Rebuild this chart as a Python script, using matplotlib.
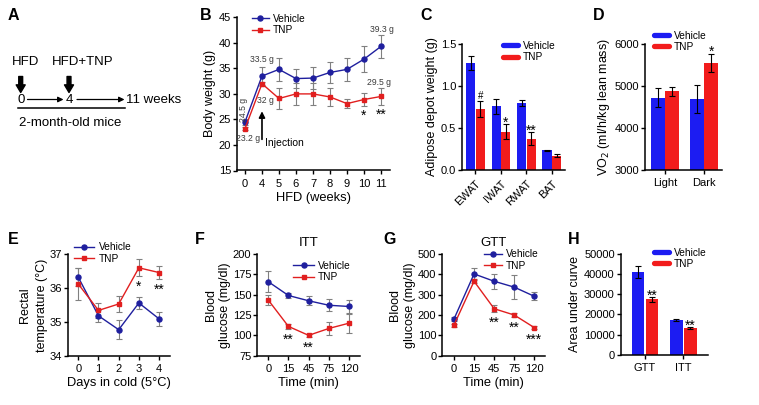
import matplotlib
matplotlib.use('Agg')
import numpy as np
import matplotlib.pyplot as plt

plt.rcParams['font.family'] = ['Liberation Sans', 'DejaVu Sans']

# ---- data ----
weeks_lbl = ['0', '4', '5', '6', '7', '8', '9', '10', '11']
bw_veh = [24.5, 33.5, 34.8, 33.0, 33.1, 34.2, 34.8, 36.8, 39.3]
bw_veh_err = [0.5, 1.8, 2.2, 1.8, 2.2, 2.0, 2.3, 2.5, 2.3]
bw_tnp = [23.2, 32.0, 29.1, 30.0, 30.0, 29.4, 28.1, 28.9, 29.5]
bw_tnp_err = [0.3, 0.4, 2.0, 2.1, 2.1, 1.8, 0.85, 1.2, 1.6]
bw_marks = ['', '', '', '', '', '', '', '*', '**']

fat_cats = ['EWAT', 'IWAT', 'RWAT', 'BAT']
fat_veh = [1.27, 0.76, 0.80, 0.235]
fat_veh_err = [0.085, 0.09, 0.035, 0.008]
fat_tnp = [0.73, 0.455, 0.375, 0.17]
fat_tnp_err = [0.095, 0.09, 0.08, 0.015]
fat_marks = ['#', '*', '**', '']

vo2_cats = ['Light', 'Dark']
vo2_veh = [4720, 4690]
vo2_veh_err = [230, 330]
vo2_tnp = [4870, 5550]
vo2_tnp_err = [110, 220]
vo2_marks = ['', '*']

temp_days = ['0', '1', '2', '3', '4']
temp_veh = [36.32, 35.18, 34.77, 35.56, 35.09]
temp_veh_err = [0.27, 0.18, 0.29, 0.19, 0.21]
temp_tnp = [36.12, 35.34, 35.53, 36.6, 36.46]
temp_tnp_err = [0.47, 0.21, 0.23, 0.25, 0.19]
temp_marks = ['', '', '', '*', '**']

time_lbl = ['0', '15', '45', '75', '120']
itt_veh = [166, 149, 142.5, 137, 135.5]
itt_veh_err = [13, 3.5, 5.5, 7.5, 8.5]
itt_tnp = [143.5, 111, 100, 108.5, 115]
itt_tnp_err = [6.5, 3, 2, 8.5, 11.5]
itt_marks = ['', '**', '**', '', '']

gtt_veh = [180, 402, 366, 337, 292]
gtt_veh_err = [10, 28, 36, 60, 20]
gtt_tnp = [150, 366, 231, 200, 138]
gtt_tnp_err = [8, 10, 18, 9, 7]
gtt_marks = ['', '', '**', '**', '***']

auc_cats = ['GTT', 'ITT']
auc_veh = [41000, 17200]
auc_veh_err = [3000, 450]
auc_tnp = [27400, 13400]
auc_tnp_err = [1000, 450]
auc_marks = ['**', '**']

C_VEH, C_TNP = '#1f1f9e', '#e11f1f'
B_VEH, B_TNP = '#1c1cf2', '#f21c1c'
GREY = '#808080'

W, H = 759, 405
fig = plt.figure(figsize=(W / 100, H / 100), dpi=100)

# overlay for panel A diagram and panel letters (pixel coords)
axA = fig.add_axes([0, 0, 1, 1])
axA.set_xlim(0, W); axA.set_ylim(H, 0); axA.axis('off')


def px_axes(l, t, r, b):
    return fig.add_axes([l / W, 1 - b / H, (r - l) / W, (b - t) / H])


def style(ax):
    for s in ['top', 'right']:
        ax.spines[s].set_visible(False)
    for s in ['left', 'bottom']:
        ax.spines[s].set_linewidth(1.1)
    ax.tick_params(direction='out', length=2.8, width=1.0, labelsize=8, pad=1.5)
    ax.tick_params(axis='x', pad=3.2)


def star(ax, x, y, s, dy_px, fs=10):
    c = 0.36 if s == '#' else 0.58
    fsz = 7 if s == '#' else fs
    ax.annotate(s, xy=(x, y), xytext=(0, dy_px * 0.72 - c * fsz), textcoords='offset points',
                ha='center', va='baseline', fontsize=fsz)


def line_panel(ax, veh, veh_err, tnp, tnp_err, marks):
    x = np.arange(len(veh))
    ek = dict(fmt='none', ecolor=GREY, elinewidth=0.8, capsize=2.2, capthick=0.8, zorder=2)
    ax.errorbar(x, veh, yerr=veh_err, **ek)
    ax.errorbar(x, tnp, yerr=tnp_err, **ek)
    ax.plot(x, veh, '-o', color=C_VEH, lw=1.0, ms=3.6, label='Vehicle', zorder=3)
    ax.plot(x, tnp, '-s', color=C_TNP, lw=1.0, ms=3.4, label='TNP', zorder=3)
    for i, m in enumerate(marks):
        if m:
            star(ax, i, tnp[i] - tnp_err[i], m, -6.5)


def bar_panel(ax, veh, veh_err, tnp, tnp_err, marks, w, off):
    x = np.arange(len(veh))
    ek = dict(ecolor='k', elinewidth=0.8, capsize=2, capthick=0.8)
    ax.bar(x - off, veh, w, yerr=veh_err, color=B_VEH, error_kw=ek, label='Vehicle')
    ax.bar(x + off, tnp, w, yerr=tnp_err, color=B_TNP, error_kw=ek, label='TNP')
    for i, m in enumerate(marks):
        if m:
            star(ax, i + off, tnp[i] + tnp_err[i], m, 5.5)


def line_legend(ax, x, y, hl):
    ax.legend(loc='center left', bbox_to_anchor=(x, y), frameon=False, fontsize=7.3,
              borderpad=0, borderaxespad=0, handlelength=hl, handletextpad=0.4,
              labelspacing=0.12, numpoints=1)


def bar_legend(ax, x, y):
    hs = [plt.Line2D([0], [0], color=c, lw=3.8, solid_capstyle='round') for c in (B_VEH, B_TNP)]
    ax.legend(hs, ['Vehicle', 'TNP'], loc='center left', bbox_to_anchor=(x, y), frameon=False,
              fontsize=7.3, borderpad=0, borderaxespad=0, handlelength=1.45,
              handletextpad=0.5, labelspacing=0.12)


# ---- A: timeline ----
tA = dict(fontsize=9.5, va='center')
axA.text(26, 62, 'HFD', ha='center', **tA)
axA.text(83, 62, 'HFD+TNP', ha='center', **tA)
for xa in (20.7, 69):
    axA.annotate('', xy=(xa, 92.5), xytext=(xa, 76.5),
                 arrowprops=dict(width=2.8, headwidth=6.5, headlength=5.5, color='k'))
axA.text(20.7, 100, '0', ha='center', **tA)
axA.text(69, 100, '4', ha='center', **tA)
axA.text(125.5, 100, '11 weeks', ha='left', **tA)
for x0, x1 in ((27.5, 63.5), (77, 124.5)):
    axA.annotate('', xy=(x1, 99.5), xytext=(x0, 99.5),
                 arrowprops=dict(arrowstyle='-|>', lw=0.9, color='k', mutation_scale=8,
                                 shrinkA=0, shrinkB=0))
axA.plot([18.3, 125], [108.3, 108.3], color='k', lw=1.1)
axA.text(19, 123, '2-month-old mice', ha='left', **tA)

for lt, lx, ly in (('A', 8, 15.5), ('B', 200, 15.5), ('C', 420, 15.5), ('D', 593, 15.5),
                   ('E', 8, 239), ('F', 195, 239), ('G', 383, 239), ('H', 568, 239)):
    axA.text(lx, ly, lt, fontsize=11.5, fontweight='bold', ha='left', va='center')

# ---- B: body weight ----
axB = px_axes(237, 17.3, 390, 170.5)
style(axB)
line_panel(axB, bw_veh, bw_veh_err, bw_tnp, bw_tnp_err, bw_marks)
axB.set_xlim(-0.47, 8.53); axB.set_ylim(15, 45)
axB.set_yticks(range(15, 46, 5))
axB.set_xticks(range(len(weeks_lbl))); axB.set_xticklabels(weeks_lbl)
axB.set_ylabel('Body weight (g)', fontsize=9, labelpad=2)
axB.set_xlabel('HFD (weeks)', fontsize=9.3, labelpad=2)
line_legend(axB, 0.096, 0.952, 1.66)
ann = dict(textcoords='offset points', ha='center', va='center', fontsize=6.2, color='#3a3a3a')
axB.annotate('24.5 g', xy=(0, bw_veh[0]), xytext=(-1.2, 8.9), rotation=90, **ann)
axB.annotate('23.2 g', xy=(0, bw_tnp[0]), xytext=(2.2, -6.8), **ann)
axB.annotate('33.5 g', xy=(1, bw_veh[1]), xytext=(0, 12), **ann)
axB.annotate('32 g', xy=(1, bw_tnp[1]), xytext=(2.5, -12), **ann)
axB.annotate('39.3 g', xy=(8, bw_veh[8]), xytext=(0.7, 12), **ann)
axB.annotate('29.5 g', xy=(8, bw_tnp[8]), xytext=(-1.2, 10), **ann)
axB.annotate('', xy=(1, 26.6), xytext=(1, 21.1),
             arrowprops=dict(arrowstyle='-|>', lw=1.2, color='k', mutation_scale=9,
                             shrinkA=0, shrinkB=0))
axB.text(1.17, 20.4, 'Injection', fontsize=7.5, ha='left', va='center')

# ---- C: adipose depots ----
axC = px_axes(462, 44, 565, 170)
style(axC)
bar_panel(axC, fat_veh, fat_veh_err, fat_tnp, fat_tnp_err, fat_marks, 0.36, 0.19)
axC.set_xlim(-0.53, 3.52); axC.set_ylim(0, 1.5)
axC.set_yticks([0, 0.5, 1.0, 1.5]); axC.set_yticklabels(['0.0', '0.5', '1.0', '1.5'])
axC.set_xticks(range(len(fat_cats)))
axC.set_xticklabels(fat_cats, rotation=45, ha='right', va='top', rotation_mode='anchor')
axC.set_ylabel('Adipose depot weight (g)', fontsize=9, labelpad=2)
bar_legend(axC, 0.397, 0.94)

# ---- D: VO2 ----
axD = px_axes(645, 44, 722, 170)
style(axD)
bar_panel(axD, vo2_veh, vo2_veh_err, vo2_tnp, vo2_tnp_err, vo2_marks, 0.35, 0.18)
axD.set_xlim(-0.51, 1.46); axD.set_ylim(3000, 6000)
axD.set_yticks(range(3000, 6001, 1000))
axD.set_xticks(range(len(vo2_cats))); axD.set_xticklabels(vo2_cats)
axD.set_ylabel('VO$_2$ (ml/h/kg lean mass)', fontsize=9, labelpad=2)
bar_legend(axD, 0.12, 1.022)

# ---- E: rectal temperature ----
axE = px_axes(68, 254.3, 170, 355.7)
style(axE)
line_panel(axE, temp_veh, temp_veh_err, temp_tnp, temp_tnp_err, temp_marks)
axE.set_xlim(-0.51, 4.54); axE.set_ylim(34, 37)
axE.set_yticks([34, 35, 36, 37])
axE.set_xticks(range(len(temp_days))); axE.set_xticklabels(temp_days)
axE.set_ylabel('Rectal\ntemperature (\u00b0C)', fontsize=9, labelpad=1, linespacing=1.55)
axE.set_xlabel('Days in cold (5\u00b0C)', fontsize=9.3, labelpad=2)
line_legend(axE, 0.06, 1.013, 2.0)

# ---- F: ITT ----
axF = px_axes(257.3, 254, 360, 355.7)
style(axF)
line_panel(axF, itt_veh, itt_veh_err, itt_tnp, itt_tnp_err, itt_marks)
axF.set_xlim(-0.54, 4.54); axF.set_ylim(75, 200)
axF.set_yticks(range(75, 201, 25))
axF.set_xticks(range(len(time_lbl))); axF.set_xticklabels(time_lbl)
axF.set_ylabel('Blood\nglucose (mg/dl)', fontsize=9, labelpad=1, linespacing=1.25)
axF.set_xlabel('Time (min)', fontsize=9.3, labelpad=2)
axF.set_title('ITT', fontsize=9.5, pad=6)
line_legend(axF, 0.35, 0.828, 2.05)

# ---- G: GTT ----
axG = px_axes(442.3, 254, 545, 355.7)
style(axG)
line_panel(axG, gtt_veh, gtt_veh_err, gtt_tnp, gtt_tnp_err, gtt_marks)
axG.set_xlim(-0.58, 4.53); axG.set_ylim(0, 500)
axG.set_yticks(range(0, 501, 100))
axG.set_xticks(range(len(time_lbl))); axG.set_xticklabels(time_lbl)
axG.set_ylabel('Blood\nglucose (mg/dl)', fontsize=9, labelpad=1, linespacing=1.4)
axG.set_xlabel('Time (min)', fontsize=9.3, labelpad=2)
axG.set_title('GTT', fontsize=9.5, pad=6)
line_legend(axG, 0.41, 0.942, 1.72)

# ---- H: AUC ----
axH = px_axes(620.7, 253.7, 708, 355)
style(axH)
bar_panel(axH, auc_veh, auc_veh_err, auc_tnp, auc_tnp_err, auc_marks, 0.33, 0.18)
axH.set_xlim(-0.63, 1.64); axH.set_ylim(0, 50000)
axH.set_yticks(range(0, 50001, 10000))
axH.set_xticks(range(len(auc_cats))); axH.set_xticklabels(auc_cats)
axH.set_ylabel('Area under curve', fontsize=9, labelpad=2)
bar_legend(axH, 0.385, 0.955)

fig.savefig('out.png', dpi=100)
